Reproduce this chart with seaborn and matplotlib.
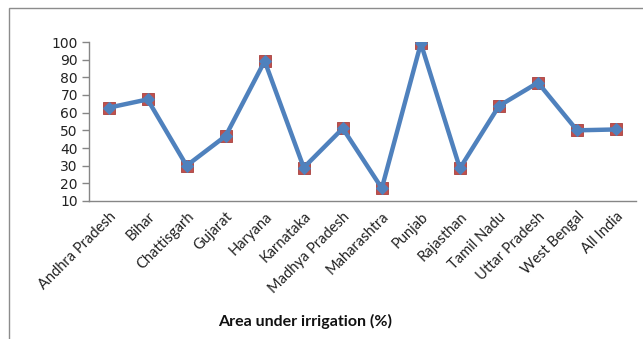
import matplotlib
matplotlib.use("Agg")
import matplotlib.pyplot as plt
import seaborn as sns
import pandas as pd
from matplotlib.patches import Rectangle

states = ["Andhra Pradesh", "Bihar", "Chattisgarh", "Gujarat", "Haryana",
          "Karnataka", "Madhya Pradesh", "Maharashtra", "Punjab", "Rajasthan",
          "Tamil Nadu", "Uttar Pradesh", "West Bengal", "All India"]
irrigated_pct = [62.8, 67.5, 30.0, 46.8, 89.2, 28.9, 51.1, 17.2, 99.2, 28.5,
                 63.8, 77.0, 50.0, 50.5]
y_ticks = [10, 20, 30, 40, 50, 60, 70, 80, 90, 100]

df = pd.DataFrame({"state": states, "pct": irrigated_pct})

sns.set_style("white")
fig = plt.figure(figsize=(6.43, 3.39), dpi=100)
ax = fig.add_axes([89 / 643, 1 - 201 / 339, (635.6 - 89) / 643, (201 - 42) / 339])

# chart frame
fig.patches.append(Rectangle((9 / 643, -0.1), 1.2, 1 - 8 / 339 + 0.1,
                             transform=fig.transFigure, fill=False,
                             edgecolor="#8c8c8c", linewidth=1.0, zorder=0))

sns.scatterplot(data=df, x="state", y="pct", marker="s", s=85,
                color="#C0504D", edgecolor="#A8403D", linewidth=0.6,
                ax=ax, zorder=3, legend=False)
sns.lineplot(data=df, x="state", y="pct", sort=False, color="#4F81BD",
             linewidth=3.2, marker="D", markersize=6.5,
             markeredgecolor="#4F81BD", ax=ax, zorder=4)

ax.set_xlim(-0.5, len(states) - 0.5)
ax.set_ylim(10, 100)
ax.set_yticks(y_ticks)
ax.set_yticklabels([str(t) for t in y_ticks], fontsize=10, color="#222222",
                   family="DejaVu Sans")

ax.set_xticks(range(len(states)))
ax.set_xticklabels(states, rotation=45, ha="right", rotation_mode="anchor",
                   fontsize=10.5, family="Lato", color="#222222")
ax.set_xticks([i - 0.5 for i in range(len(states) + 1)], minor=True)
ax.tick_params(axis="x", which="major", length=0, pad=6)
ax.tick_params(axis="x", which="minor", length=5, color="#868686", width=1)
ax.tick_params(axis="y", length=5, color="#868686", width=1, pad=3, left=True)

for side in ["top", "right"]:
    ax.spines[side].set_visible(False)
for side in ["left", "bottom"]:
    ax.spines[side].set_color("#868686")
    ax.spines[side].set_linewidth(1.0)

ax.set_ylabel("")
ax.set_xlabel("")
fig.text(305 / 643, 1 - 321 / 339, "Area under irrigation (%)",
         ha="center", va="center", fontsize=11.5, fontweight="bold",
         family="Lato", color="#111111")

fig.savefig("out.png", dpi=100)
